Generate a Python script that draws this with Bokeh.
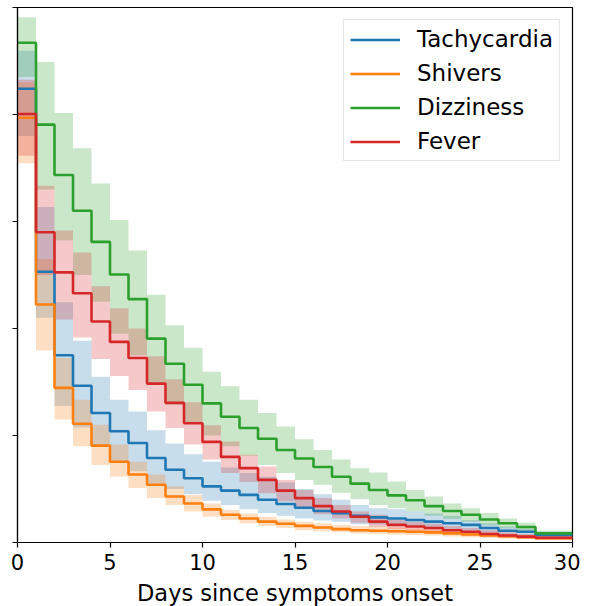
from bokeh.plotting import figure
from bokeh.models import Range1d, FixedTicker, Legend, LegendItem
from bokeh.embed import file_html
from bokeh.resources import INLINE

# Day index k: value on the interval [k, k+1); last value holds until day 30
days = list(range(29))
x_end = 30

tachy = [0.848, 0.506, 0.350, 0.293, 0.242, 0.208, 0.186, 0.158, 0.136, 0.120,
         0.105, 0.097, 0.089, 0.080, 0.072, 0.065, 0.059, 0.055, 0.050, 0.047,
         0.045, 0.042, 0.039, 0.036, 0.033, 0.027, 0.022, 0.020, 0.014]
tachy_lo = [0.760, 0.420, 0.255, 0.215, 0.180, 0.151, 0.133, 0.110, 0.100, 0.090,
            0.078, 0.070, 0.062, 0.055, 0.050, 0.045, 0.041, 0.039, 0.034, 0.033,
            0.031, 0.029, 0.027, 0.025, 0.022, 0.018, 0.015, 0.013, 0.009]
tachy_hi = [0.919, 0.627, 0.449, 0.377, 0.310, 0.267, 0.245, 0.210, 0.185, 0.165,
            0.151, 0.140, 0.130, 0.123, 0.112, 0.100, 0.090, 0.080, 0.070, 0.064,
            0.062, 0.058, 0.054, 0.050, 0.042, 0.036, 0.030, 0.026, 0.020]

shivers = [0.794, 0.445, 0.289, 0.222, 0.181, 0.151, 0.127, 0.108, 0.086, 0.073,
           0.062, 0.052, 0.045, 0.039, 0.035, 0.031, 0.028, 0.025, 0.023, 0.022,
           0.021, 0.020, 0.019, 0.017, 0.015, 0.013, 0.012, 0.010, 0.008]
shivers_lo = [0.709, 0.359, 0.230, 0.180, 0.145, 0.123, 0.102, 0.083, 0.070, 0.058,
              0.048, 0.042, 0.036, 0.031, 0.027, 0.023, 0.021, 0.019, 0.017, 0.016,
              0.015, 0.014, 0.013, 0.011, 0.010, 0.008, 0.007, 0.006, 0.004]
shivers_hi = [0.860, 0.530, 0.345, 0.267, 0.220, 0.183, 0.151, 0.127, 0.105, 0.089,
              0.073, 0.061, 0.054, 0.048, 0.043, 0.039, 0.036, 0.033, 0.031, 0.030,
              0.028, 0.026, 0.025, 0.023, 0.020, 0.018, 0.016, 0.014, 0.012]

dizzy = [0.934, 0.781, 0.687, 0.620, 0.562, 0.501, 0.455, 0.381, 0.334, 0.295,
         0.260, 0.235, 0.214, 0.194, 0.173, 0.157, 0.141, 0.123, 0.110, 0.098,
         0.088, 0.079, 0.068, 0.059, 0.052, 0.043, 0.036, 0.029, 0.017]
dizzy_lo = [0.870, 0.660, 0.565, 0.500, 0.450, 0.390, 0.350, 0.295, 0.258, 0.225,
            0.200, 0.180, 0.162, 0.145, 0.130, 0.117, 0.108, 0.093, 0.081, 0.070,
            0.064, 0.058, 0.050, 0.044, 0.039, 0.032, 0.026, 0.020, 0.012]
dizzy_hi = [0.982, 0.898, 0.803, 0.737, 0.671, 0.603, 0.546, 0.463, 0.406, 0.364,
            0.319, 0.292, 0.267, 0.242, 0.217, 0.193, 0.173, 0.155, 0.139, 0.131,
            0.114, 0.098, 0.086, 0.073, 0.064, 0.055, 0.045, 0.037, 0.022]

fever = [0.801, 0.580, 0.505, 0.466, 0.413, 0.375, 0.345, 0.297, 0.261, 0.223,
         0.188, 0.160, 0.139, 0.117, 0.097, 0.083, 0.068, 0.058, 0.048, 0.039,
         0.033, 0.030, 0.027, 0.023, 0.020, 0.016, 0.013, 0.011, 0.009]
fever_lo = [0.723, 0.500, 0.417, 0.383, 0.343, 0.311, 0.285, 0.245, 0.214, 0.183,
            0.155, 0.130, 0.113, 0.092, 0.077, 0.065, 0.053, 0.045, 0.037, 0.029,
            0.025, 0.022, 0.020, 0.017, 0.014, 0.011, 0.009, 0.007, 0.005]
fever_hi = [0.865, 0.667, 0.583, 0.542, 0.479, 0.438, 0.400, 0.348, 0.305, 0.262,
            0.219, 0.189, 0.164, 0.142, 0.117, 0.098, 0.083, 0.070, 0.058, 0.052,
            0.042, 0.039, 0.035, 0.031, 0.027, 0.023, 0.019, 0.016, 0.013]

names = ["Tachycardia", "Shivers", "Dizziness", "Fever"]
colors = ["#1f77b4", "#ff7f0e", "#2ca02c", "#d62728"]
x_ticks = [0, 5, 10, 15, 20, 25, 30]
y_ticks = [0, 0.2, 0.4, 0.6, 0.8, 1.0]

series = [(tachy, tachy_lo, tachy_hi), (shivers, shivers_lo, shivers_hi),
          (dizzy, dizzy_lo, dizzy_hi), (fever, fever_lo, fever_hi)]

p = figure(frame_width=555, frame_height=535,
           x_range=Range1d(0, 30), y_range=Range1d(0, 1.0),
           output_backend="svg", toolbar_location=None,
           min_border_left=17, min_border_right=8, min_border_top=7,
           min_border_bottom=0)

xs = days + [x_end]

for (v, lo, hi), c in zip(series, colors):
    p.varea_step(x=xs, y1=lo + [lo[-1]], y2=hi + [hi[-1]], step_mode="after",
                 fill_color=c, fill_alpha=0.25)

line_renderers = []
for (v, lo, hi), c in zip(series, colors):
    r = p.step(x=xs, y=v + [v[-1]], mode="after", line_color=c, line_width=2.6)
    line_renderers.append(r)

p.xgrid.visible = False
p.ygrid.visible = False
p.outline_line_color = "black"
p.outline_line_width = 1.2

p.xaxis.ticker = FixedTicker(ticks=x_ticks)
p.yaxis.ticker = FixedTicker(ticks=y_ticks)
p.yaxis.major_label_overrides = {t: "" for t in y_ticks}
p.yaxis.major_label_standoff = 0
for ax in (p.xaxis, p.yaxis):
    ax.axis_line_color = "black"
    ax.axis_line_width = 1.2
    ax.major_tick_line_color = "black"
    ax.major_tick_line_width = 1.2
    ax.major_tick_out = 5
    ax.major_tick_in = 0
    ax.minor_tick_line_color = None
p.xaxis.major_label_text_font = "DejaVu Sans"
p.xaxis.major_label_text_font_size = "21px"
p.xaxis.major_label_text_color = "black"
p.xaxis.major_label_standoff = 6
p.xaxis.axis_label = "Days since symptoms onset"
p.xaxis.axis_label_text_font = "DejaVu Sans"
p.xaxis.axis_label_text_font_size = "22.5px"
p.xaxis.axis_label_text_font_style = "normal"
p.xaxis.axis_label_text_color = "black"
p.xaxis.axis_label_standoff = 7

legend = Legend(items=[LegendItem(label=n, renderers=[r]) for n, r in zip(names, line_renderers)],
                location="top_right")
legend.label_text_font = "DejaVu Sans"
legend.label_text_font_size = "23px"
legend.label_text_color = "black"
legend.glyph_width = 50
legend.glyph_height = 17
legend.label_height = 17
legend.label_standoff = 17
legend.spacing = 8
legend.padding = 6
legend.margin = 12
legend.border_line_color = "#cccccc"
legend.border_line_width = 1
legend.background_fill_alpha = 0.8
p.add_layout(legend)

open("out.html", "w").write(file_html(p, INLINE))
